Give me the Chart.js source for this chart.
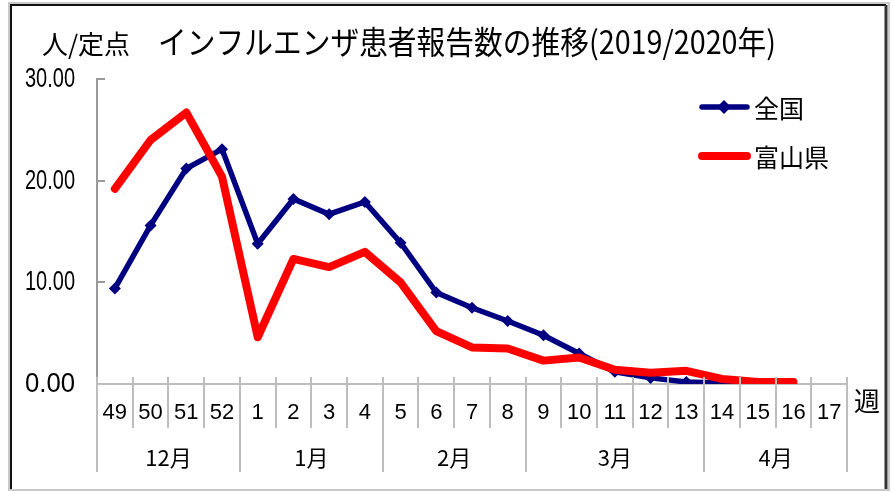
<!DOCTYPE html>
<html>
<head>
<meta charset="utf-8">
<script src="https://cdn.jsdelivr.net/npm/chart.js@4/dist/chart.umd.min.js"></script>
<style>
  html, body { margin: 0; padding: 0; background: #fff; }
  #wrap { width: 893px; height: 491px; }
</style>
</head>
<body>
<div id="wrap"><canvas id="chart" width="893" height="491"></canvas></div>
<script>
const weeks = ['49', '50', '51', '52', '1', '2', '3', '4', '5', '6', '7', '8', '9', '10', '11', '12', '13', '14', '15', '16', '17']
const national = [9.4, 15.6, 21.2, 23.1, 13.8, 18.2, 16.7, 17.9, 13.9, 9.0, 7.5, 6.2, 4.8, 3.0, 1.2, 0.6, 0.2, 0.1, 0.05, null, null]
const toyama = [19.2, 24.0, 26.7, 20.4, 4.6, 12.3, 11.5, 13.0, 10.0, 5.2, 3.6, 3.5, 2.3, 2.6, 1.4, 1.1, 1.3, 0.5, 0.2, 0.2, null]
const monthLabels = ['12月', '1月', '2月', '3月', '4月']
const monthStarts = [0, 4, 8, 12, 17]
const monthEnds = [4, 8, 12, 17, 21]
const seriesNames = ['全国', '富山県']
const titleUnit = '人/定点'
const titleText = 'インフルエンザ患者報告数の推移(2019/2020年)'
const xUnit = '週'

const NAVY = '#000080'
const RED = '#ff0000'
const GRAY = '#bdbdbd'
const JP = '"Noto Sans CJK JP", "Noto Sans", sans-serif'

// draws text squeezed horizontally to a given width
function squeezed(ctx, text, x, y, width, font, align) {
    ctx.save()
    ctx.font = font
    const w = ctx.measureText(text).width
    const s = Math.min(1, width / w)
    ctx.translate(x, y)
    ctx.scale(s, 1)
    ctx.textAlign = align || 'left'
    ctx.textBaseline = 'middle'
    ctx.fillText(text, 0, 0)
    ctx.restore()
}

const decor = {
    id: 'decor',
    beforeDraw(chart) {
        const ctx = chart.ctx
        ctx.save()
        ctx.fillStyle = '#fff'
        ctx.fillRect(0, 0, chart.width, chart.height)
        // frame
        ctx.strokeStyle = '#c8c8c8'
        ctx.lineWidth = 2
        ctx.strokeRect(9, 3, 880, 487)
        ctx.strokeStyle = '#111'
        ctx.lineWidth = 2
        ctx.beginPath()
        ctx.moveTo(11, 489); ctx.lineTo(11, 5); ctx.lineTo(886, 5)
        ctx.stroke()
        ctx.strokeStyle = '#333'
        ctx.lineWidth = 3
        ctx.beginPath()
        ctx.moveTo(886, 5); ctx.lineTo(886, 489)
        ctx.stroke()
        ctx.restore()
    },
    afterDraw(chart) {
        const ctx = chart.ctx
        const area = chart.chartArea
        const y = chart.scales.y
        const n = weeks.length
        const step = (area.right - area.left) / n
        ctx.save()

        // y ticks pointing inward, and their labels
        ctx.strokeStyle = '#999'
        ctx.lineWidth = 2
        ctx.fillStyle = '#000'
        for (const t of y.ticks) {
            const py = Math.round(y.getPixelForValue(t.value))
            if (t.value > 0) {
                ctx.beginPath()
                ctx.moveTo(area.left, py); ctx.lineTo(area.left + 8, py)
                ctx.stroke()
            }
            squeezed(ctx, t.value.toFixed(2), 75, py, 50, '28px "Liberation Sans", Arial, sans-serif', 'right')
        }

        // week separators
        ctx.strokeStyle = GRAY
        ctx.lineWidth = 2
        for (let i = 0; i <= n; i++) {
            const px = Math.round(area.left + i * step)
            const isMonth = monthStarts.includes(i) || i === n
            ctx.beginPath()
            ctx.moveTo(px, area.bottom - 7)
            ctx.lineTo(px, isMonth ? area.bottom + 88 : area.bottom + 44)
            ctx.stroke()
        }

        // month labels
        ctx.fillStyle = '#000'
        ctx.font = '22px ' + JP
        ctx.textAlign = 'center'
        ctx.textBaseline = 'middle'
        monthLabels.forEach((m, i) => {
            const cx = area.left + (monthStarts[i] + monthEnds[i]) / 2 * step
            ctx.fillText(m, cx, 458)
        })

        // axis unit
        ctx.font = '26px ' + JP
        ctx.textAlign = 'left'
        ctx.fillText(xUnit, 854, 401)

        // titles
        squeezed(ctx, titleUnit, 42, 44, 88, '26px ' + JP)
        squeezed(ctx, titleText, 158, 42, 618, '32px ' + JP)

        // legend
        const items = [
            { name: seriesNames[0], color: NAVY, width: 5.5, marker: true, y: 107 },
            { name: seriesNames[1], color: RED, width: 8, marker: false, y: 156 }
        ]
        for (const it of items) {
            ctx.strokeStyle = it.color
            ctx.lineWidth = it.width
            ctx.lineCap = 'round'
            ctx.beginPath()
            ctx.moveTo(702, it.y); ctx.lineTo(747, it.y)
            ctx.stroke()
            if (it.marker) {
                ctx.fillStyle = it.color
                ctx.beginPath()
                ctx.moveTo(724, it.y - 7); ctx.lineTo(731, it.y); ctx.lineTo(724, it.y + 7); ctx.lineTo(717, it.y)
                ctx.closePath()
                ctx.fill()
            }
            ctx.fillStyle = '#000'
            ctx.font = '25px ' + JP
            ctx.textAlign = 'left'
            ctx.textBaseline = 'middle'
            ctx.fillText(it.name, 754, it.y + 1)
        }
        ctx.restore()
    }
}

const chart = new Chart(document.getElementById('chart'), {
    type: 'line',
    data: {
        labels: weeks,
        datasets: [{
            label: seriesNames[0],
            data: national,
            borderColor: NAVY,
            backgroundColor: NAVY,
            borderWidth: 5.5,
            pointStyle: 'rectRot',
            pointRadius: 6,
            pointBorderWidth: 0,
            tension: 0,
            order: 1
        }, {
            label: seriesNames[1],
            data: toyama,
            borderColor: RED,
            backgroundColor: RED,
            borderWidth: 8,
            borderCapStyle: 'round',
            borderJoinStyle: 'round',
            pointRadius: 0,
            tension: 0,
            order: 0
        }]
    },
    options: {
        responsive: false,
        animation: false,
        layout: { padding: { left: 0, top: 79, right: 46, bottom: 0 } },
        plugins: {
            legend: { display: false },
            tooltip: { enabled: false }
        },
        scales: {
            x: {
                type: 'category',
                offset: true,
                grid: { display: false, drawTicks: false },
                border: { display: true, color: GRAY, width: 2 },
                ticks: {
                    autoSkip: false,
                    maxRotation: 0,
                    padding: 16,
                    color: '#000',
                    font: { family: '"Liberation Sans", Arial, sans-serif', size: 22 }
                },
                afterFit: (scale) => { scale.height = 107 }
            },
            y: {
                min: 0,
                max: 30,
                grid: { display: false },
                border: { display: true, color: '#999', width: 2 },
                ticks: {
                    stepSize: 10,
                    display: false
                },
                afterFit: (scale) => { scale.width = 97 }
            }
        }
    },
    plugins: [decor]
})
</script>
</body>
</html>
